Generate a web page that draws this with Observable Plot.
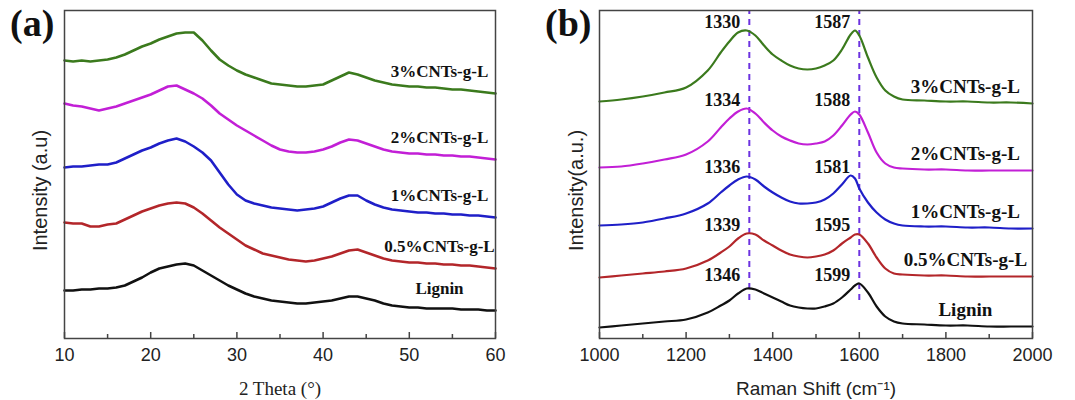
<!DOCTYPE html>
<html>
<head>
<meta charset="utf-8">
<script src="https://cdn.jsdelivr.net/npm/d3@7"></script>
<script src="https://cdn.jsdelivr.net/npm/@observablehq/plot@0.6"></script>
<style>
  html, body { margin: 0; padding: 0; background: #fff; }
  #fig { position: relative; width: 1075px; height: 400px; background: #fff; overflow: hidden; }
  .panel { position: absolute; top: 0; }
  .plab { position: absolute; top: 4px; font-family: "Liberation Serif", "Times New Roman", serif; font-weight: bold; font-size: 38px; line-height: 1; color: #111; }
</style>
</head>
<body>
<div id="fig">
  <div id="pa" class="panel" style="left:0px"></div>
  <div id="pb" class="panel" style="left:535px"></div>
  <div class="plab" style="left:10px">(a)</div>
  <div class="plab" style="left:545px">(b)</div>
</div>
<script>
// ---------- data ----------
const seriesNames = ["Lignin", "0.5%CNTs-g-L", "1%CNTs-g-L", "2%CNTs-g-L", "3%CNTs-g-L"];
const seriesColors = ["#111111", "#b3262a", "#1f1fc8", "#c21fd6", "#3b7a1d"];

// (a) XRD, 2 theta (deg) and stacked intensities (a.u.)
const xrdTheta = [10,11,12,13,14,15,16,17,18,19,20,21,22,23,24,25,26,27,28,29,30,31,32,33,34,35,36,37,38,39,40,41,42,43,44,45,46,47,48,49,50,51,52,53,54,55,56,57,58,59,60];
const xrdLignin = [110,110,111,111,112,112,113,115,119,123,128,132,134,136,137,135,130,125,120,115,111,107,104,102,100,99,98,97,97,98,99,100,102,104,104,102,100,97,95,94,93,93,92,92,92,92,91,91,91,90,90];
const xrd05 = [178,177,177,174,174,176,177,181,185,189,192,195,197,198,197,193,187,180,173,167,161,155,151,147,145,143,141,140,139,140,142,144,147,150,151,148,145,142,140,139,138,138,137,137,136,136,135,135,134,133,132];
const xrd1 = [233,234,234,235,236,236,238,242,246,250,253,257,260,262,259,254,248,240,228,216,206,200,197,195,193,192,191,190,191,192,194,198,202,205,205,200,196,193,191,190,189,188,188,187,187,186,186,185,185,184,183];
const xrd2 = [297,295,294,292,290,292,294,297,300,303,306,310,314,315,311,307,302,295,287,281,275,270,265,260,255,251,249,248,248,249,251,254,258,261,260,257,254,251,249,248,247,247,246,246,245,245,244,244,243,242,241];
const xrd3 = [340,339,340,339,340,341,343,346,350,354,357,361,364,367,368,368,360,350,341,335,330,326,323,320,317,316,315,314,314,315,316,320,324,328,326,323,320,318,316,315,314,314,313,313,312,311,311,310,309,308,307];
const xrdTicksMajor = [10,20,30,40,50,60];
const xrdTicksMinor = [15,25,35,45,55];

// (b) Raman shift (cm-1) and stacked intensities (a.u.)
const ramanShift = [1000,1050,1100,1150,1200,1250,1280,1300,1320,1340,1360,1380,1400,1420,1440,1460,1480,1500,1520,1540,1560,1580,1590,1600,1620,1640,1660,1680,1700,1750,1800,1850,1900,1950,2000];
const ramanLignin = [73,75,77,79,81,88,95,100,107,112,111,107,103,99,95,93,92,92,94,97,103,111,115,117,108,94,84,79,77,76,75,75,74,74,74];
const raman05 = [123,125,127,129,132,140,148,154,162,167,166,160,155,150,146,144,143,144,146,150,157,163,166,166,157,143,132,127,126,125,125,124,124,124,124];
const raman1 = [175,176,178,182,187,197,208,215,221,224,221,214,208,203,199,197,197,198,201,207,216,225,222,212,198,188,181,177,175,174,174,173,173,172,172];
const raman2 = [233,234,237,241,246,259,273,282,289,292,287,278,270,264,260,257,256,257,259,265,275,286,289,286,268,248,237,233,232,231,231,230,230,230,230];
const raman3 = [299,301,304,308,313,330,348,359,368,370,365,355,346,340,335,332,331,332,335,340,351,366,370,365,343,323,310,304,301,300,299,299,298,298,297];
const peakD = [1346, 1339, 1336, 1334, 1330];
const peakG = [1599, 1595, 1581, 1588, 1587];
const dashLines = [1346, 1600];
const ramanTicksMajor = [1000,1200,1400,1600,1800,2000];
const ramanTicksMinor = [1100,1300,1500,1700,1900];

// ---------- build tables ----------
const yDomain = [62, 390];
const xrdSeries = [xrdLignin, xrd05, xrd1, xrd2, xrd3];
const ramanSeries = [ramanLignin, raman05, raman1, raman2, raman3];
const xrdRows = xrdSeries.flatMap((vals, k) => vals.map((v, i) => ({x: xrdTheta[i], y: v, name: seriesNames[k]})));
const ramanRows = ramanSeries.flatMap((vals, k) => vals.map((v, i) => ({x: ramanShift[i], y: v, name: seriesNames[k]})));
const xrdLabels = xrdSeries.map((vals, k) => ({x: 53.5, y: vals[vals.length - 1] + 22, name: seriesNames[k]}));
const ramanLabels = ramanSeries.map((vals, k) => ({x: 1845, y: vals[vals.length - 1] + 17, name: seriesNames[k]}));
const peakLabels = ramanSeries.flatMap((vals, k) => [
  {x: dashLines[0], y: d3.max(vals) + 8, text: String(peakD[k])},
  {x: dashLines[1], y: d3.max(vals) + 8, text: String(peakG[k])}
]);

const color = {domain: seriesNames, range: seriesColors};
const frameStroke = "#444";
const serif = "Liberation Serif, Times New Roman, serif";
const sans = "Liberation Sans, Arial, sans-serif";
const baseStyle = {fontFamily: sans, fontSize: "18px", color: "#222", background: "transparent", overflow: "visible"};

function tickMarks(major, minor) {
  return [
    Plot.ruleX(major, {x: d => d, y1: yDomain[0], y2: yDomain[0], insetTop: -6, stroke: frameStroke, strokeWidth: 1.5}),
    Plot.ruleX(minor, {x: d => d, y1: yDomain[0], y2: yDomain[0], insetTop: -4, stroke: frameStroke, strokeWidth: 1.5})
  ];
}

// ---------- panel (a) ----------
const plotA = Plot.plot({
  width: 535, height: 400,
  marginLeft: 64, marginRight: 40, marginTop: 10, marginBottom: 62,
  x: {domain: [10, 60]},
  y: {domain: yDomain, axis: null},
  color,
  style: baseStyle,
  marks: [
    Plot.lineY(xrdRows, {x: "x", y: "y", z: "name", stroke: "name", strokeWidth: 2.6, strokeLinejoin: "round"}),
    Plot.text(xrdLabels, {x: "x", y: "y", text: "name", fill: "#111", fontWeight: "bold", fontFamily: serif, fontSize: 17}),
    ...tickMarks(xrdTicksMajor, xrdTicksMinor),
    Plot.frame({stroke: frameStroke, strokeWidth: 1.5}),
    Plot.axisX({ticks: xrdTicksMajor, tickSize: 0, tickPadding: 10, tickFormat: "d", label: null, fontSize: 18}),
    Plot.text(["2 Theta (°)"], {frameAnchor: "bottom", textAnchor: "middle", lineAnchor: "middle", dy: 50, fontFamily: serif, fontSize: 19, fill: "#222"}),
    Plot.text(["Intensity (a.u)"], {frameAnchor: "left", textAnchor: "middle", lineAnchor: "middle", rotate: -90, dx: -24, dy: 16, fontFamily: sans, fontSize: 20, fill: "#222"})
  ]
});
document.getElementById("pa").appendChild(plotA);

// ---------- panel (b) ----------
const plotB = Plot.plot({
  width: 540, height: 400,
  marginLeft: 64, marginRight: 43, marginTop: 10, marginBottom: 62,
  x: {domain: [1000, 2000]},
  y: {domain: yDomain, axis: null},
  color,
  style: baseStyle,
  marks: [
    Plot.ruleX(dashLines, {x: d => d, y1: d3.max(ramanLignin) - 17, y2: yDomain[1], stroke: "#6c32e0", strokeWidth: 2, strokeDasharray: "6,5"}),
    Plot.lineY(ramanRows, {x: "x", y: "y", z: "name", stroke: "name", strokeWidth: 2.2, curve: "catmull-rom"}),
    Plot.text(peakLabels, {x: "x", y: "y", text: "text", textAnchor: "end", dx: -9, fill: "#111", fontWeight: "bold", fontFamily: serif, fontSize: 18}),
    Plot.text(ramanLabels, {x: "x", y: "y", text: "name", fill: "#111", fontWeight: "bold", fontFamily: serif, fontSize: 19}),
    ...tickMarks(ramanTicksMajor, ramanTicksMinor),
    Plot.frame({stroke: frameStroke, strokeWidth: 1.5}),
    Plot.axisX({ticks: ramanTicksMajor, tickSize: 0, tickPadding: 10, tickFormat: "d", label: null, fontSize: 18}),
    Plot.text(["Raman Shift (cm⁻¹)"], {frameAnchor: "bottom", textAnchor: "middle", lineAnchor: "middle", dy: 50, fontFamily: sans, fontSize: 19, fill: "#222"}),
    Plot.text(["Intensity(a.u.)"], {frameAnchor: "left", textAnchor: "middle", lineAnchor: "middle", rotate: -90, dx: -23, dy: 16, fontFamily: sans, fontSize: 20, fill: "#222"})
  ]
});
document.getElementById("pb").appendChild(plotB);
</script>
</body>
</html>
